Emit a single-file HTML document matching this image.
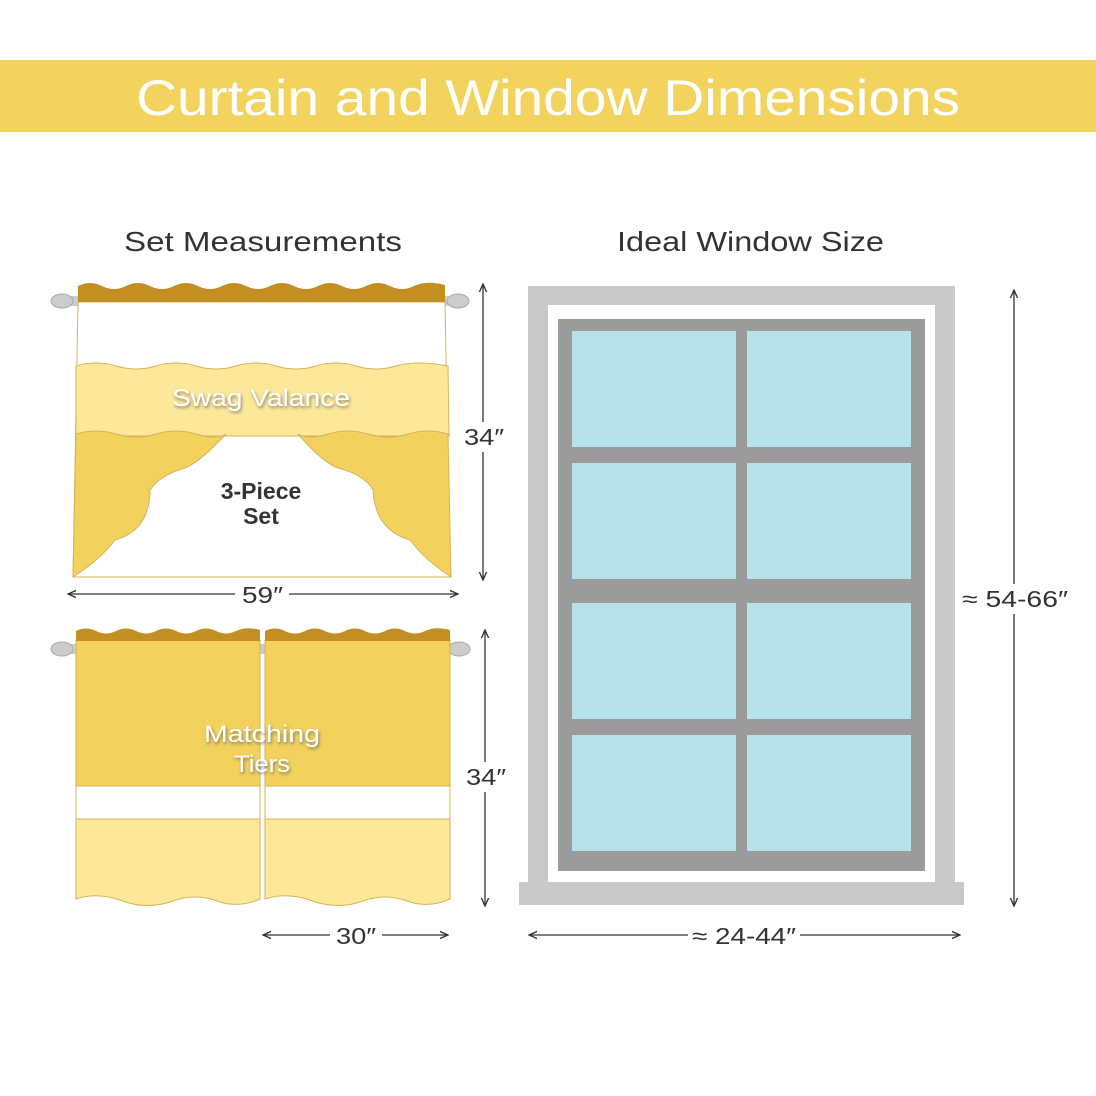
<!DOCTYPE html>
<html><head><meta charset="utf-8"><style>
html,body{margin:0;padding:0;background:#fff}
svg{display:block}
text{font-family:"Liberation Sans",sans-serif}
</style></head><body>
<svg width="1096" height="1096" viewBox="0 0 1096 1096" xmlns="http://www.w3.org/2000/svg">
<defs>
<marker id="a" viewBox="0 0 10 10" refX="9" refY="5" markerWidth="7" markerHeight="7" orient="auto-start-reverse"><path d="M0,1 L9,5 L0,9" fill="none" stroke="#333" stroke-width="1.5"/></marker>
<filter id="sh"><feDropShadow dx="1" dy="2" stdDeviation="1.5" flood-color="#555" flood-opacity="0.7"/></filter>
</defs>
<rect x="0" y="60" width="1096" height="72" fill="#f2d35e"/>
<text x="136" y="115" font-size="50" fill="#fff" textLength="824" lengthAdjust="spacingAndGlyphs">Curtain and Window Dimensions</text>
<text x="124" y="251" font-size="28" fill="#333" textLength="278" lengthAdjust="spacingAndGlyphs">Set Measurements</text>
<text x="617" y="251" font-size="28" fill="#333" textLength="267" lengthAdjust="spacingAndGlyphs">Ideal Window Size</text>

<!-- swag -->
<rect x="52" y="296" width="400" height="10" rx="5" fill="#ccc"/>
<ellipse cx="62" cy="301" rx="11" ry="7" fill="#ccc" stroke="#aaa"/>
<ellipse cx="458" cy="301" rx="11" ry="7" fill="#ccc" stroke="#aaa"/>
<path d="M78,302 L445,302 L450,577 L73,577 Z" fill="#fff" stroke="#d6b25a"/>
<path d="M76,366 Q96,360 116,366 T156,366 T196,366 T236,366 T276,366 T316,366 T356,366 T396,366 T448,366 L449,436 L76,436 Z" fill="#fde89a" stroke="#d6b25a"/>
<path d="M76,434 Q96,428 116,434 T156,434 T196,434 T226,434 Q200,462 185,468 Q160,475 150,490 Q150,530 115,540 Q100,560 73,577 Z" fill="#f2d15c" stroke="#d6b25a"/>
<path d="M448,434 Q428,428 408,434 T368,434 T328,434 T298,434 Q322,462 338,468 Q365,475 373,490 Q375,530 410,540 Q425,560 451,577 Z" fill="#f2d15c" stroke="#d6b25a"/>
<path d="M78,302 L78,286 Q90,280 102,286 T126,286 T150,286 T174,286 T198,286 T222,286 T246,286 T270,286 T294,286 T318,286 T342,286 T366,286 T390,286 T414,286 T445,285 L445,302 Z" fill="#c48f22"/>
<text x="172" y="406" font-size="24" fill="#fff" filter="url(#sh)" textLength="178" lengthAdjust="spacingAndGlyphs">Swag Valance</text>
<text x="261" y="499" text-anchor="middle" font-size="23" font-weight="bold" fill="#333">3-Piece</text>
<text x="261" y="524" text-anchor="middle" font-size="23" font-weight="bold" fill="#333">Set</text>
<line x1="483" y1="284" x2="483" y2="580" stroke="#333" stroke-width="1.3" marker-start="url(#a)" marker-end="url(#a)"/>
<rect x="460" y="422" width="46" height="30" fill="#fff"/>
<text x="464" y="445" font-size="23" fill="#333" textLength="40" lengthAdjust="spacingAndGlyphs">34″</text>
<line x1="68" y1="594" x2="458" y2="594" stroke="#333" stroke-width="1.3" marker-start="url(#a)" marker-end="url(#a)"/>
<rect x="235" y="580" width="54" height="28" fill="#fff"/>
<text x="242" y="603" font-size="23" fill="#333" textLength="41" lengthAdjust="spacingAndGlyphs">59″</text>

<!-- tiers -->
<rect x="52" y="644" width="410" height="10" rx="5" fill="#ccc"/>
<ellipse cx="62" cy="649" rx="11" ry="7" fill="#ccc" stroke="#aaa"/>
<ellipse cx="459" cy="649" rx="11" ry="7" fill="#ccc" stroke="#aaa"/>
<g stroke="#d6b25a">
<rect x="76" y="640" width="184" height="146" fill="#f2d15c"/>
<rect x="76" y="786" width="184" height="33" fill="#fff"/>
<path d="M76,819 L260,819 L260,899 Q240,908 220,902 Q195,892 170,902 Q145,910 120,900 Q95,892 76,899 Z" fill="#fde89a"/>
<rect x="265" y="640" width="185" height="146" fill="#f2d15c"/>
<rect x="265" y="786" width="185" height="33" fill="#fff"/>
<path d="M265,819 L450,819 L450,899 Q430,908 410,902 Q385,892 360,902 Q335,910 310,900 Q285,892 265,899 Z" fill="#fde89a"/>
</g>
<path d="M76,641 L76,631 Q86,626 96,631 T116,631 T136,631 T156,631 T176,631 T196,631 T216,631 T236,631 T260,630 L260,641 Z" fill="#c48f22"/>
<path d="M265,641 L265,631 Q275,626 285,631 T305,631 T325,631 T345,631 T365,631 T385,631 T405,631 T425,631 T450,630 L450,641 Z" fill="#c48f22"/>
<text x="204" y="742" font-size="24" fill="#fff" filter="url(#sh)" textLength="116" lengthAdjust="spacingAndGlyphs">Matching</text>
<text x="234" y="772" font-size="24" fill="#fff" filter="url(#sh)" textLength="56" lengthAdjust="spacingAndGlyphs">Tiers</text>
<line x1="485" y1="630" x2="485" y2="906" stroke="#333" stroke-width="1.3" marker-start="url(#a)" marker-end="url(#a)"/>
<rect x="462" y="762" width="46" height="30" fill="#fff"/>
<text x="466" y="785" font-size="23" fill="#333" textLength="40" lengthAdjust="spacingAndGlyphs">34″</text>
<line x1="263" y1="935" x2="448" y2="935" stroke="#333" stroke-width="1.3" marker-start="url(#a)" marker-end="url(#a)"/>
<rect x="330" y="920" width="52" height="28" fill="#fff"/>
<text x="336" y="944" font-size="23" fill="#333" textLength="40" lengthAdjust="spacingAndGlyphs">30″</text>

<!-- window -->
<rect x="528" y="286" width="427" height="600" fill="#c9c9c9"/>
<rect x="548" y="305" width="387" height="577" fill="#fff"/>
<rect x="558" y="319" width="367" height="552" fill="#9b9b9b"/>
<g fill="#b8e2ea">
<rect x="572" y="331" width="164" height="116"/><rect x="747" y="331" width="164" height="116"/>
<rect x="572" y="463" width="164" height="116"/><rect x="747" y="463" width="164" height="116"/>
<rect x="572" y="603" width="164" height="116"/><rect x="747" y="603" width="164" height="116"/>
<rect x="572" y="735" width="164" height="116"/><rect x="747" y="735" width="164" height="116"/>
</g>
<rect x="519" y="882" width="445" height="23" fill="#c9c9c9"/>
<line x1="1014" y1="290" x2="1014" y2="906" stroke="#333" stroke-width="1.3" marker-start="url(#a)" marker-end="url(#a)"/>
<rect x="958" y="584" width="112" height="30" fill="#fff"/>
<text x="962" y="607" font-size="23" fill="#333" textLength="106" lengthAdjust="spacingAndGlyphs">≈ 54-66″</text>
<line x1="529" y1="935" x2="960" y2="935" stroke="#333" stroke-width="1.3" marker-start="url(#a)" marker-end="url(#a)"/>
<rect x="688" y="920" width="112" height="28" fill="#fff"/>
<text x="692" y="944" font-size="23" fill="#333" textLength="104" lengthAdjust="spacingAndGlyphs">≈ 24-44″</text>
</svg>
</body></html>
